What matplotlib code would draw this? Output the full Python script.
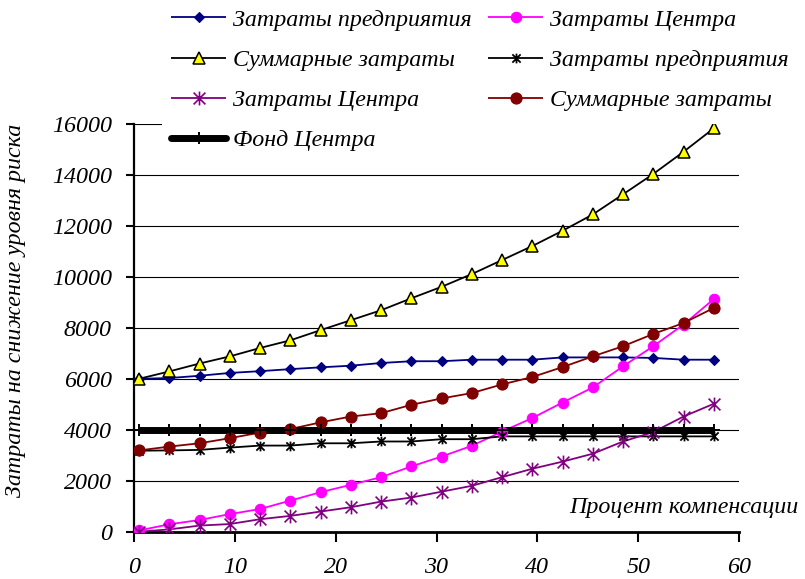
import matplotlib
matplotlib.use("Agg")
import matplotlib.pyplot as plt
from matplotlib.lines import Line2D
from matplotlib.path import Path
from matplotlib.font_manager import FontProperties

# Compensation percentage (x positions of the points)
x = [0.5, 3.5, 6.5, 9.5, 12.5, 15.5, 18.5, 21.5, 24.5, 27.5,
     30.5, 33.5, 36.5, 39.5, 42.5, 45.5, 48.5, 51.5, 54.5, 57.5]

# First variant
enterprise_1 = [6000, 6030, 6120, 6230, 6300, 6380, 6450, 6515, 6620, 6690,
                6690, 6750, 6750, 6750, 6840, 6840, 6840, 6820, 6750, 6750]
center_1 = [50, 290, 460, 690, 890, 1220, 1550, 1840, 2140, 2560,
            2950, 3370, 3930, 4460, 5070, 5660, 6490, 7280, 8130, 9130]
total_1 = [6000, 6290, 6600, 6880, 7210, 7510, 7910, 8300, 8690, 9160,
           9610, 10110, 10660, 11210, 11810, 12450, 13240, 14040, 14910, 15830]

# Second variant
enterprise_2 = [3180, 3190, 3210, 3300, 3380, 3380, 3470, 3470, 3540, 3540,
                3630, 3630, 3740, 3740, 3740, 3740, 3740, 3740, 3740, 3740]
center_2 = [0, 90, 240, 300, 490, 620, 790, 960, 1180, 1340,
            1570, 1800, 2140, 2470, 2750, 3060, 3540, 3910, 4520, 5020]
total_2 = [3190, 3340, 3470, 3670, 3890, 4030, 4290, 4520, 4650, 4980,
           5230, 5440, 5780, 6070, 6460, 6880, 7280, 7760, 8190, 8780]

# Center's fund
fund = [4000, 4000, 4000, 4000, 4000, 4000, 4000, 4000, 4000, 4000,
        4000, 4000, 4000, 4000, 4000, 4000, 4000, 4000, 4000, 4000]

labels = ["Затраты предприятия", "Затраты Центра", "Суммарные затраты",
          "Затраты предприятия", "Затраты Центра", "Суммарные затраты",
          "Фонд Центра"]
x_ticks = [0, 10, 20, 30, 40, 50, 60]
y_ticks = [0, 2000, 4000, 6000, 8000, 10000, 12000, 14000, 16000]

FONT = "Liberation Serif"
FS = 17.3
plt.rcParams["font.family"] = FONT
plt.rcParams["font.style"] = "italic"
fp = FontProperties(family=FONT, style="italic", size=FS)

# asterisk marker: vertical stroke plus an X
star = Path([(0, -1), (0, 1), (-0.85, -0.85), (0.85, 0.85), (-0.85, 0.85), (0.85, -0.85)],
            [Path.MOVETO, Path.LINETO, Path.MOVETO, Path.LINETO, Path.MOVETO, Path.LINETO])

styles = [
    dict(color="#000080", lw=1.3, marker="D", ms=5.6, mfc="#000080", mec="#000080", mew=0.8),
    dict(color="#FF00FF", lw=1.3, marker="o", ms=7.5, mfc="#FF00FF", mec="#FF00FF", mew=0.8),
    dict(color="#000000", lw=1.3, marker="^", ms=8.5, mfc="#FFFF00", mec="#000000", mew=1.1),
    dict(color="#000000", lw=1.3, marker=star, ms=7.0, mfc="none", mec="#000000", mew=1.3),
    dict(color="#800080", lw=1.3, marker=star, ms=10.0, mfc="none", mec="#800080", mew=1.2),
    dict(color="#800000", lw=1.3, marker="o", ms=8.0, mfc="#800000", mec="#800000", mew=0.8),
    dict(color="#000000", lw=5.0, marker="+", ms=8.0, mfc="#000000", mec="#000000", mew=1.4),
]
series = [enterprise_1, center_1, total_1, enterprise_2, center_2, total_2, fund]

fig = plt.figure(figsize=(8.05, 5.79), dpi=100)
ax = fig.add_axes([134 / 805, 1 - 531.7 / 579, (739 - 134) / 805, (531.7 - 124) / 579])
ax.set_axisbelow(True)

# lines first, markers on top of all lines
for ys, st in zip(series, styles):
    ax.plot(x, ys, color=st["color"], lw=st["lw"], solid_capstyle="butt", zorder=3)
for ys, st in zip(series, styles):
    ax.plot(x, ys, ls="none", marker=st["marker"], ms=st["ms"], mfc=st["mfc"],
            mec=st["mec"], mew=st["mew"], zorder=4)

ax.set_xlim(0, 60)
ax.set_ylim(0, 16000)
ax.tick_params(axis="x", direction="out", length=7, width=1.5, pad=11)
ax.tick_params(axis="y", direction="out", length=6, width=1.5, pad=10)
ax.set_xticks(x_ticks)
ax.set_yticks(y_ticks)
ax.set_xticklabels([str(v) for v in x_ticks], fontproperties=fp)
ax.set_yticklabels([str(v) for v in y_ticks], fontproperties=fp)
ax.grid(axis="y", color="black", lw=0.8)
ax.grid(axis="x", visible=False)
for side in ("top", "right"):
    ax.spines[side].set_visible(False)
ax.spines["left"].set_linewidth(1.6)
ax.spines["bottom"].set_linewidth(2.0)

handles = []
for st in styles:
    handles.append(Line2D([], [], color=st["color"], lw=st["lw"], marker=st["marker"],
                          ms=st["ms"], mfc=st["mfc"], mec=st["mec"], mew=st["mew"],
                          solid_capstyle="butt" if st["lw"] < 3 else "round"))
order = [0, 2, 4, 6, 1, 3, 5]
leg = ax.legend([handles[i] for i in order], [labels[i] for i in order],
                ncol=2, loc="upper left", bbox_to_anchor=(162 / 805, 1.0),
                bbox_transform=fig.transFigure, borderaxespad=0, prop=fp,
                handlelength=2.29, handletextpad=0.29, columnspacing=0.7,
                borderpad=0.375, labelspacing=0.76, numpoints=1,
                frameon=True, fancybox=False, framealpha=1)
leg.get_frame().set_facecolor("white")
leg.get_frame().set_edgecolor("none")
leg.set_zorder(2.5)

fig.text(16 / 805, 1 - 310 / 579, "Затраты на снижение уровня риска", rotation=90,
         ha="center", va="center", fontproperties=fp)
fig.text(798 / 805, 1 - 507 / 579, "Процент компенсации", ha="right", va="center",
         fontproperties=fp)

fig.canvas.draw()
for lbl in ax.get_xticklabels() + ax.get_yticklabels():
    lbl.set_fontproperties(fp)

fig.savefig("out.png", dpi=100)
